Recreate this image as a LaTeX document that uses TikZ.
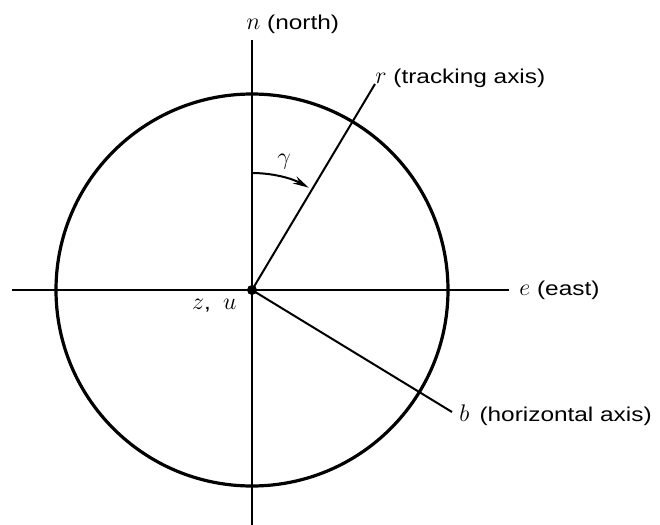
\documentclass[tikz,border=0pt]{standalone}
\usepackage{fontspec}
\setmainfont[FakeStretch=1.22]{Liberation Sans}
\usetikzlibrary{arrows.meta,positioning}
\newcommand{\axvar}[1]{{\large$#1$}}

\begin{document}
\begin{tikzpicture}[x=0.5pt,y=-0.5pt,
  rim/.style={line width=1.6pt},
  axis/.style={line width=1.2pt},
  ray/.style={line width=1pt},
  lbl/.style={font=\normalsize,inner sep=1pt}]
  \useasboundingbox (0,0) rectangle (660,525);
  % centre and axis ends
  \coordinate (o) at (252,290);
  \coordinate (w) at (12,290);
  \coordinate (e) at (509,290);
  \coordinate (n) at (252,40);
  \coordinate (s) at (252,525);
  \coordinate (r) at (375,84);
  \coordinate (b) at (452,412);
  \coordinate (g) at (252,173);
  % horizon circle
  \draw[rim] (o) circle[radius=196];
  \draw[axis] (w) -- (e);
  \draw[axis] (n) -- (s);
  \draw[ray] (o) -- (r);
  \draw[ray] (o) -- (b);
  \fill (o) circle[radius=5];
  % angle gamma
  \draw[ray,-{Stealth[length=8pt,width=4pt]}] (g) arc[start angle=-90,end angle=-61,radius=117];
  \node[lbl] (gam) at (284,162) {\axvar{\gamma}};
  % labels
  \node[lbl,anchor=west] (nlbl) at (244,24) {\axvar{n} (north)};
  \node[lbl,anchor=west] (elbl) at (517,290) {\axvar{e} (east)};
  \node[lbl,anchor=west] (rlbl) at (373,78) {\axvar{r} (tracking axis)};
  \node[lbl,anchor=west] (blbl) at (457,415) {\axvar{b} \,(horizontal axis)};
  \node[lbl,anchor=east] (zu) at (239,306) {\axvar{z},\; \axvar{u}};
\end{tikzpicture}
\end{document}
